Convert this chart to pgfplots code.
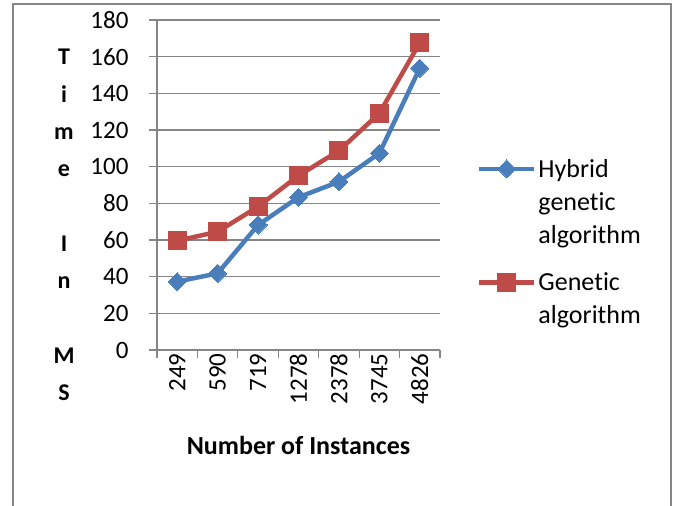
\documentclass[border=0pt]{standalone}
\usepackage{fontspec}
\setmainfont[Ligatures={NoCommon}]{Carlito}
\usepackage{pgfplots}
\pgfplotsset{compat=1.18}
\definecolor{hblue}{RGB}{74,126,187}
\definecolor{gred}{RGB}{190,75,72}
\definecolor{axgray}{RGB}{134,134,134}
\begin{document}
\begin{tikzpicture}
\useasboundingbox (0bp,0bp) rectangle (677bp,506bp);
\draw[axgray, line width=1.5bp] (13bp,-10bp) rectangle (671bp,502bp);
\node[font=\fontsize{24bp}{37.3bp}\selectfont\bfseries, align=center, anchor=north, inner sep=0pt] at (64bp,457bp) {T\\i\\m\\e\\~\\I\\n\\~\\M\\S};
\begin{axis}[
  at={(157bp,156bp)}, anchor=south west,
  scale only axis, width=283bp, height=330bp,
  xmin=0.5, xmax=7.5, ymin=0, ymax=180,
  axis lines=left, axis line style={axgray, line width=1.2bp, -},
  ytick={0,20,...,180},
  ymajorgrids, grid style={axgray, line width=1.2bp},
  tick align=outside, major tick length=8bp,
  tick style={axgray, line width=1.2bp},
  xtick={0.5,1.5,...,7.5}, xticklabels={},
  extra x ticks={1,2,3,4,5,6,7},
  extra x tick labels={249,590,719,1278,2378,3745,4826},
  extra x tick style={major tick length=0pt, grid=none,
     tick label style={rotate=90, anchor=east, font=\fontsize{25bp}{29bp}\selectfont}},
  /pgf/number format/assume math mode=true,
  yticklabel style={font=\fontsize{25bp}{29bp}\selectfont, xshift=-17bp},
  xlabel={Number of Instances},
  xlabel style={font=\fontsize{26bp}{30bp}\selectfont\bfseries, at={(axis description cs:0.5,-0.288)}, anchor=center},
  legend style={draw=none, fill=none, at={(axis description cs:1.13,0.585)}, anchor=north west,
     font=\fontsize{26bp}{33bp}\selectfont, row sep=24bp, inner sep=0pt},
  legend cell align=left,
  legend image code/.code={\draw[mark repeat=2,mark phase=2,#1] plot coordinates {(0bp,0bp) (27.5bp,0bp) (55bp,0bp)};},
  clip=false,
]
\addplot[hblue, line width=4.5bp, mark=square*, mark size=6.4bp, mark options={rotate=45, line width=0pt, fill=hblue, draw=hblue},
  legend image post style={yshift=33bp}]
  coordinates {(1,37.3) (2,41.8) (3,68.2) (4,83.3) (5,91.8) (6,107.3) (7,153.7)};
\addlegendentry[align=left]{Hybrid\\genetic\\algorithm}
\addplot[gred, line width=4.5bp, mark=square*, mark size=9bp, mark options={line width=0pt, fill=gred, draw=gred},
  legend image post style={yshift=16.5bp}]
  coordinates {(1,59.6) (2,64.5) (3,78.2) (4,95.1) (5,108.7) (6,129.1) (7,167.6)};
\addlegendentry[align=left]{Genetic\\algorithm}
\end{axis}
\end{tikzpicture}
\end{document}
